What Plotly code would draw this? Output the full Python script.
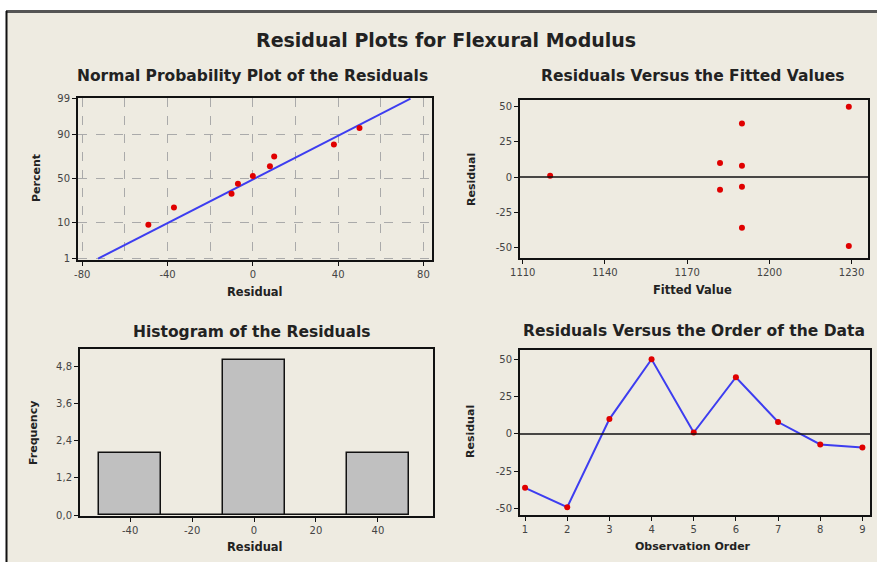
import math
import plotly.graph_objects as go

# ---------------- data ----------------
observation = [1, 2, 3, 4, 5, 6, 7, 8, 9]
residuals = [-36, -49, 10, 50, 1, 38, 8, -7, -9]
fitted_values = [1190, 1229, 1182, 1229, 1120, 1190, 1190, 1190, 1182]
# normal probability plot: sorted residuals and plotted percents
npp_residuals = [-49, -37, -10, -7, 0, 8, 10, 38, 50]
npp_percent = [9, 20, 33, 44, 53, 64, 74, 84, 93]
percent_ticks = [1, 10, 50, 90, 99]
resid_ticks_npp = [-80, -40, 0, 40, 80]
fitted_ticks = [1110, 1140, 1170, 1200, 1230]
resid_ticks = [-50, -25, 0, 25, 50]
# histogram
bin_centers = [-40, -20, 0, 20, 40]
bin_counts = [2, 0, 5, 0, 2]
freq_ticks = [0.0, 1.2, 2.4, 3.6, 4.8]
freq_ticklabels = ["0,0", "1,2", "2,4", "3,6", "4,8"]

W, H = 877, 562
FONT = "DejaVu Sans"


def probit(p):
    """inverse normal CDF for a percent value (probability-scale axis)"""
    q = p / 100.0
    lo, hi = -8.0, 8.0
    for _ in range(80):
        mid = (lo + hi) / 2
        if 0.5 * (1 + math.erf(mid / math.sqrt(2))) < q:
            lo = mid
        else:
            hi = mid
    return (lo + hi) / 2


def px_x(x):
    return x / W


def px_y(y):
    return 1 - y / H


def dom_x(a, b):
    return [px_x(a), px_x(b)]


def dom_y(top, bottom):
    return [px_y(bottom), px_y(top)]


def hy(vals):
    return [str(v).replace("−", "-") for v in vals]


fig = go.Figure()

BLUE = "#3d3df0"
RED = "#e00000"

# fitted normal line from residual mean / std
n = len(residuals)
mu = sum(residuals) / n
sd = math.sqrt(sum((r - mu) ** 2 for r in residuals) / (n - 1))
z_lo, z_hi = probit(1), probit(99)
fig.add_trace(go.Scatter(x=[mu + sd * z_lo, mu + sd * z_hi], y=[z_lo, z_hi],
                         mode="lines", line=dict(color=BLUE, width=2),
                         xaxis="x", yaxis="y", showlegend=False, hoverinfo="skip"))
fig.add_trace(go.Scatter(x=npp_residuals, y=[probit(p) for p in npp_percent],
                         mode="markers", marker=dict(color=RED, size=6),
                         xaxis="x", yaxis="y", showlegend=False))

# residuals vs fitted
fig.add_trace(go.Scatter(x=fitted_values, y=residuals, mode="markers",
                         marker=dict(color=RED, size=6),
                         xaxis="x2", yaxis="y2", showlegend=False))

# histogram
fig.add_trace(go.Bar(x=bin_centers, y=bin_counts, width=20,
                     marker=dict(color="#c0c0c0", line=dict(color="#111111", width=1.5)),
                     xaxis="x3", yaxis="y3", showlegend=False))

# residuals vs order
fig.add_trace(go.Scatter(x=observation, y=residuals, mode="lines+markers",
                         line=dict(color=BLUE, width=2),
                         marker=dict(color=RED, size=6),
                         xaxis="x4", yaxis="y4", showlegend=False))

tickfont = dict(family=FONT, size=10, color="#444444")
common = dict(showline=True, mirror=True, linecolor="#111111", linewidth=2,
              ticks="outside", ticklen=4, tickcolor="#111111", tickwidth=1,
              tickfont=tickfont, zeroline=False, automargin=False)

fig.update_layout(
    width=W, height=H,
    autosize=False,
    margin=dict(l=0, r=0, t=0, b=0, pad=0),
    paper_bgcolor="white",
    plot_bgcolor="white",
    font=dict(family=FONT),
    bargap=0,
    xaxis=dict(domain=dom_x(78, 432), anchor="y", range=[-82, 84],
               tickvals=resid_ticks_npp, ticktext=hy(resid_ticks_npp), showgrid=True,
               gridcolor="#aaaaaa", griddash="dash", gridwidth=1,
               minor=dict(dtick=20, tick0=0, showgrid=True, gridcolor="#aaaaaa",
                          griddash="dash", ticks=""),
               **common),
    yaxis=dict(domain=dom_y(98, 260), anchor="x",
               range=[probit(1) - 0.04, probit(99) + 0.02],
               tickvals=[probit(p) for p in percent_ticks],
               ticktext=[str(p) for p in percent_ticks],
               showgrid=True, gridcolor="#aaaaaa", griddash="dash", gridwidth=1,
               **common),
    xaxis2=dict(domain=dom_x(520, 868), anchor="y2", range=[1109, 1236],
                tickvals=fitted_ticks, ticktext=hy(fitted_ticks), showgrid=False, **common),
    yaxis2=dict(domain=dom_y(100, 258), anchor="x2", range=[-57.6, 54.8],
                tickvals=resid_ticks, ticktext=hy(resid_ticks), showgrid=False, **common),
    xaxis3=dict(domain=dom_x(80, 433), anchor="y3", range=[-56.2, 57.8],
                tickvals=bin_centers, ticktext=hy(bin_centers), showgrid=False, **common),
    yaxis3=dict(domain=dom_y(349, 516), anchor="x3", range=[-0.03, 5.35],
                tickvals=freq_ticks, ticktext=freq_ticklabels, showgrid=False, **common),
    xaxis4=dict(domain=dom_x(520, 870), anchor="y4", range=[0.88, 9.18],
                tickvals=observation, showgrid=False, **common),
    yaxis4=dict(domain=dom_y(350, 515), anchor="x4", range=[-54.2, 56.2],
                tickvals=resid_ticks, ticktext=hy(resid_ticks), showgrid=False, **common),
)

# zero reference lines
for ax, x0, x1 in [("2", 1109, 1236), ("4", 0.88, 9.18)]:
    fig.add_shape(type="line", xref="x" + ax, yref="y" + ax, x0=x0, x1=x1, y0=0, y1=0,
                  line=dict(color="#111111", width=1.5), layer="above")

# background panel and frame lines
fig.add_shape(type="rect", xref="paper", yref="paper",
              x0=px_x(6), x1=1.0, y0=0.0, y1=px_y(11),
              fillcolor="#eeebe1", line=dict(width=0), layer="below")
fig.add_shape(type="line", xref="paper", yref="paper",
              x0=px_x(6), x1=1.0, y0=px_y(11.5), y1=px_y(11.5),
              line=dict(color="#555555", width=3))
fig.add_shape(type="line", xref="paper", yref="paper",
              x0=px_x(6.5), x1=px_x(6.5), y0=0.0, y1=px_y(11),
              line=dict(color="#111111", width=2))


def label(text, x, y, size, angle=0, bold=True, color="#222222"):
    fig.add_annotation(text=("<b>%s</b>" % text) if bold else text,
                       xref="paper", yref="paper", x=px_x(x), y=px_y(y),
                       xanchor="center", yanchor="middle", showarrow=False,
                       textangle=angle,
                       font=dict(family=FONT, size=size, color=color))


label("Residual Plots for Flexural Modulus", 446, 40, 19)
label("Normal Probability Plot of the Residuals", 252, 76, 15.5)
label("Residuals Versus the Fitted Values", 692, 76, 15.5)
label("Histogram of the Residuals", 252, 332, 15.5)
label("Residuals Versus the Order of the Data", 694, 331, 15.5)

label("Residual", 255, 292, 11.5)
label("Fitted Value", 692, 290, 11.5)
label("Residual", 255, 547, 11.5)
label("Observation Order", 693, 546, 11)

label("Percent", 36, 178, 11, angle=-90)
label("Residual", 471, 180, 11, angle=-90)
label("Frequency", 33, 433, 11, angle=-90)
label("Residual", 470, 432, 11, angle=-90)

fig.write_html(
    "out.html",
    post_script="document.documentElement.style.margin='0';"
                "document.body.style.margin='0';document.body.style.padding='0';",
)
